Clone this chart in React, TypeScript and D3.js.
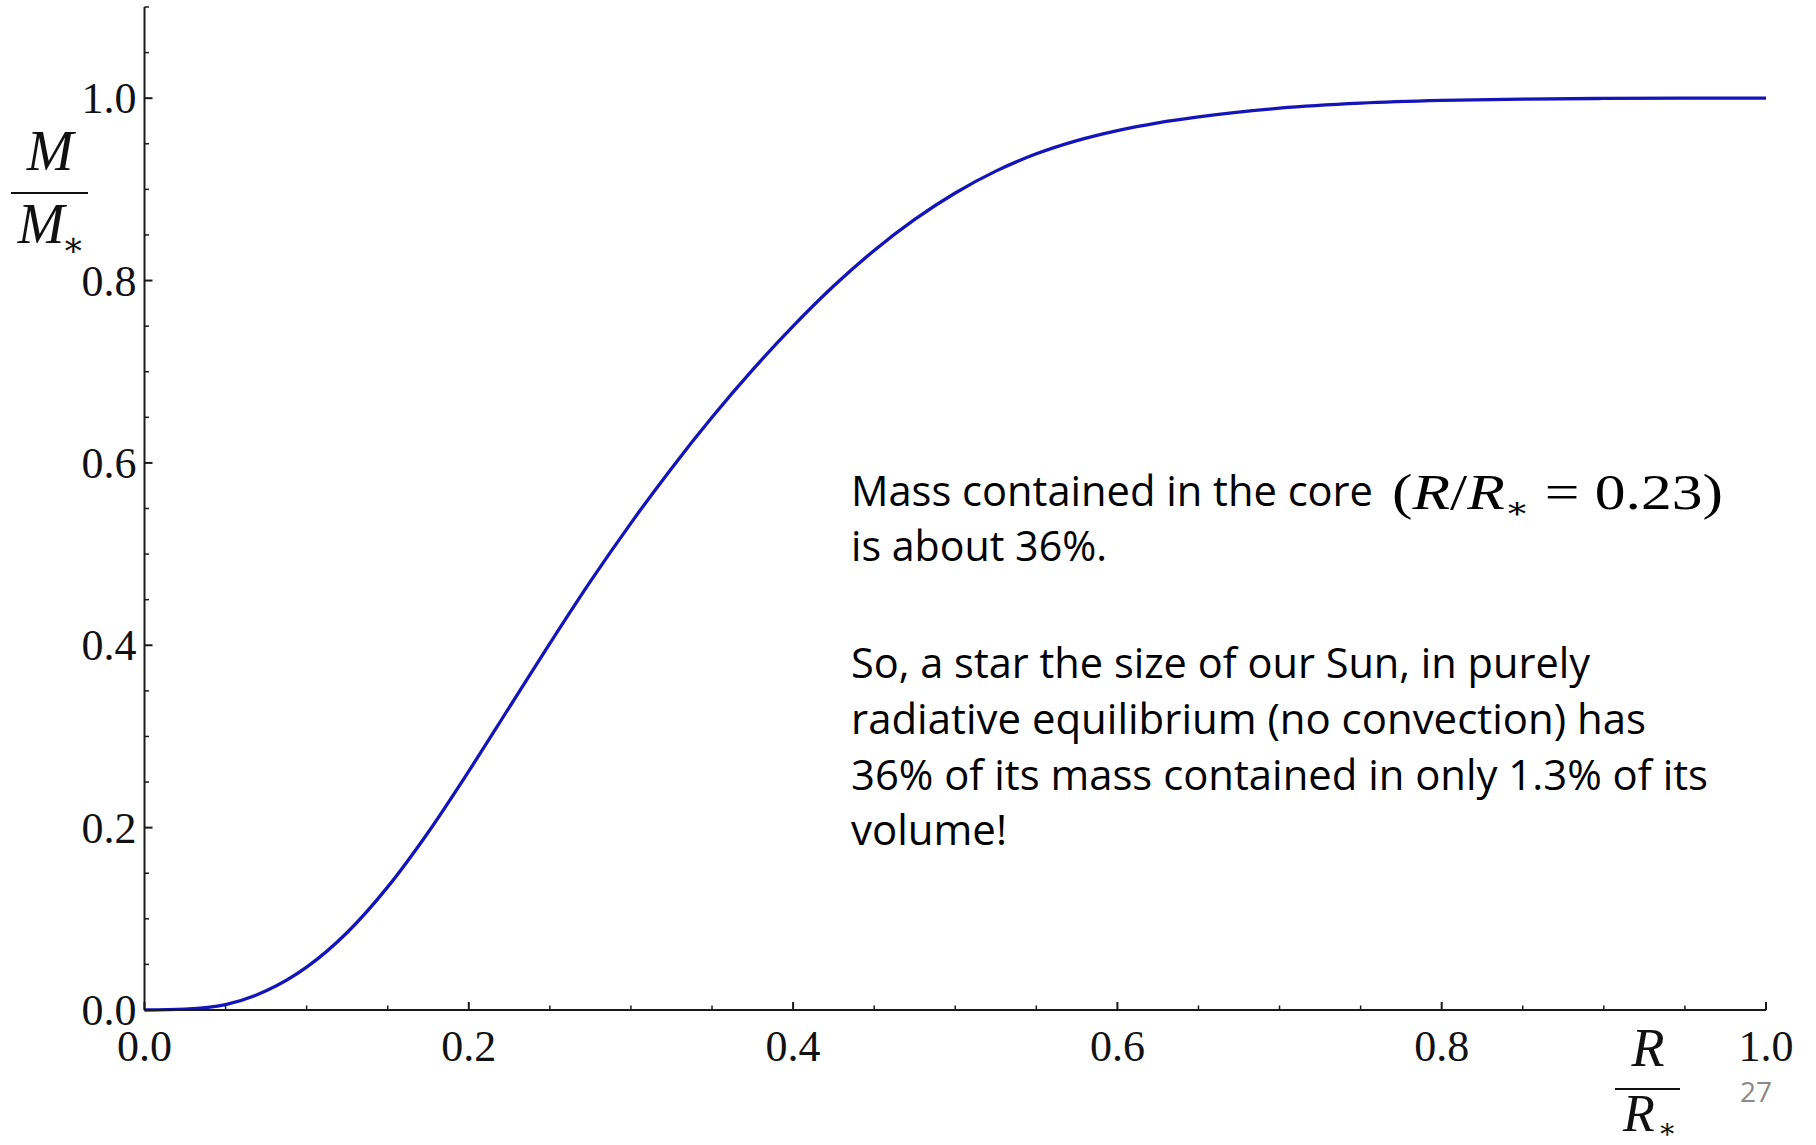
import React from "react";
import * as d3 from "d3";

const radius = [0, 0.025, 0.05, 0.075, 0.1, 0.125, 0.15, 0.175, 0.2, 0.225, 0.25, 0.275, 0.3, 0.325, 0.35, 0.375, 0.4, 0.425, 0.45, 0.475, 0.5, 0.525, 0.55, 0.575, 0.6, 0.625, 0.65, 0.7, 0.75, 0.8, 0.85, 0.9, 0.95, 1.0];
const massFraction = [0, 0.001, 0.006, 0.021, 0.047, 0.085, 0.135, 0.195, 0.262, 0.332, 0.402, 0.47, 0.534, 0.594, 0.65, 0.702, 0.75, 0.794, 0.833, 0.867, 0.896, 0.92, 0.939, 0.9535, 0.9645, 0.973, 0.9795, 0.989, 0.9945, 0.9975, 0.999, 0.9997, 1.0, 1.0];

const xMajorTicks = [0, 0.2, 0.4, 0.6, 0.8, 1.0];
const yMajorTicks = [0, 0.2, 0.4, 0.6, 0.8, 1.0];
const tickLabels = ["0.0", "0.2", "0.4", "0.6", "0.8", "1.0"];

const noteLines = [
  "Mass contained in the core",
  "is about 36%.",
  "So, a star the size of our Sun, in purely",
  "radiative equilibrium (no convection) has",
  "36% of its mass contained in only 1.3% of its",
  "volume!",
];

const W = 1816;
const H = 1145;
const SERIF = "'Liberation Serif', 'DejaVu Serif', serif";
const SANS = "'Open Sans', 'Noto Sans', sans-serif";

export default function App() {
  const x = d3.scaleLinear().domain([0, 1]).range([144.5, 1766]);
  const y = d3.scaleLinear().domain([0, 1.1]).range([1010, 7]);

  const data = radius.map((r, i) => [r, massFraction[i]] as [number, number]);
  const line = d3
    .line<[number, number]>()
    .x((d) => x(d[0]))
    .y((d) => y(d[1]))
    .curve(d3.curveMonotoneX);

  const xMinor = d3.range(0, 1.0001, 0.05).filter((v) => Math.abs(Math.round(v * 5) - v * 5) > 1e-6);
  const yMinor = d3.range(0, 1.1001, 0.05).filter((v) => Math.abs(Math.round(v * 5) - v * 5) > 1e-6);

  const noteX = 851;
  const noteBaselines = [506, 561, 678, 734, 790, 845];
  const noteWidths = [522, 256, 739, 795, 857, 156];

  return (
    <svg
      width={W}
      height={H}
      viewBox={`0 0 ${W} ${H}`}
      style={{ position: "absolute", left: 0, top: 0, background: "#fff" }}
    >
      <rect x={0} y={0} width={W} height={H} fill="#fff" />

      {/* curve */}
      <path d={line(data) || ""} fill="none" stroke="#1414b8" strokeWidth={3.3} strokeLinejoin="round" />

      {/* axes */}
      <line x1={x(0)} x2={x(0)} y1={y(0)} y2={y(1.1)} stroke="#1a1a1a" strokeWidth={2} />
      <line x1={x(0)} x2={x(1)} y1={y(0)} y2={y(0)} stroke="#1a1a1a" strokeWidth={2} />

      {xMajorTicks.map((t) => (
        <line key={"xM" + t} x1={x(t)} x2={x(t)} y1={y(0)} y2={y(0) - 8} stroke="#1a1a1a" strokeWidth={2} />
      ))}
      {xMinor.map((t) => (
        <line key={"xm" + t} x1={x(t)} x2={x(t)} y1={y(0)} y2={y(0) - 4.5} stroke="#1a1a1a" strokeWidth={1.5} />
      ))}
      {yMajorTicks.map((t) => (
        <line key={"yM" + t} x1={x(0)} x2={x(0) + 8} y1={y(t)} y2={y(t)} stroke="#1a1a1a" strokeWidth={2} />
      ))}
      {yMinor.map((t) => (
        <line key={"ym" + t} x1={x(0)} x2={x(0) + 4.5} y1={y(t)} y2={y(t)} stroke="#1a1a1a" strokeWidth={1.5} />
      ))}

      {/* tick labels */}
      {yMajorTicks.map((t, i) => (
        <text
          key={"yl" + t}
          x={x(0) - 8}
          y={y(t) + 15}
          textAnchor="end"
          fontFamily={SERIF}
          fontSize={44}
          fill="#111"
        >
          {tickLabels[i]}
        </text>
      ))}
      {xMajorTicks.map((t, i) => (
        <text
          key={"xl" + t}
          x={x(t)}
          y={y(0) + 51}
          textAnchor="middle"
          fontFamily={SERIF}
          fontSize={44}
          fill="#111"
        >
          {tickLabels[i]}
        </text>
      ))}

      {/* y label M / M* */}
      <text x={50} y={170} textAnchor="middle" fontFamily={SERIF} fontStyle="italic" fontSize={56} fill="#111">
        M
      </text>
      <line x1={11} x2={88} y1={193} y2={193} stroke="#111" strokeWidth={2} />
      <text x={41} y={243} textAnchor="middle" fontFamily={SERIF} fontStyle="italic" fontSize={56} fill="#111">
        M
      </text>
      <text x={73} y={256} textAnchor="middle" fontFamily={SERIF} fontSize={34} fill="#111">
        ∗
      </text>

      {/* x label R / R* */}
      <text x={1648} y={1066} textAnchor="middle" fontFamily={SERIF} fontStyle="italic" fontSize={54} fill="#111">
        R
      </text>
      <line x1={1615} x2={1680} y1={1089} y2={1089} stroke="#111" strokeWidth={2} />
      <text x={1639} y={1131} textAnchor="middle" fontFamily={SERIF} fontStyle="italic" fontSize={52} fill="#111">
        R
      </text>
      <text x={1667} y={1138} textAnchor="middle" fontFamily={SERIF} fontSize={28} fill="#111">
        ∗
      </text>

      {/* page number */}
      <text x={1756} y={1102} textAnchor="middle" fontFamily={SANS} fontSize={28} fill="#8a8a8a">
        27
      </text>

      {/* annotation */}
      {noteLines.map((s, i) => (
        <text
          key={"n" + i}
          x={noteX}
          y={noteBaselines[i]}
          fontFamily={SANS}
          fontSize={42}
          fill="#000"
          textLength={noteWidths[i]}
          lengthAdjust="spacingAndGlyphs"
        >
          {s}
        </text>
      ))}
      <text
        x={1392}
        y={509}
        fontFamily={SERIF}
        fontSize={51}
        fill="#000"
        textLength={331}
        lengthAdjust="spacingAndGlyphs"
      >
        <tspan>(</tspan>
        <tspan fontStyle="italic">R</tspan>
        <tspan>/</tspan>
        <tspan fontStyle="italic">R</tspan>
        <tspan fontSize={30} dy={9}>∗</tspan>
        <tspan dy={-9}> = 0.23)</tspan>
      </text>
    </svg>
  );
}
